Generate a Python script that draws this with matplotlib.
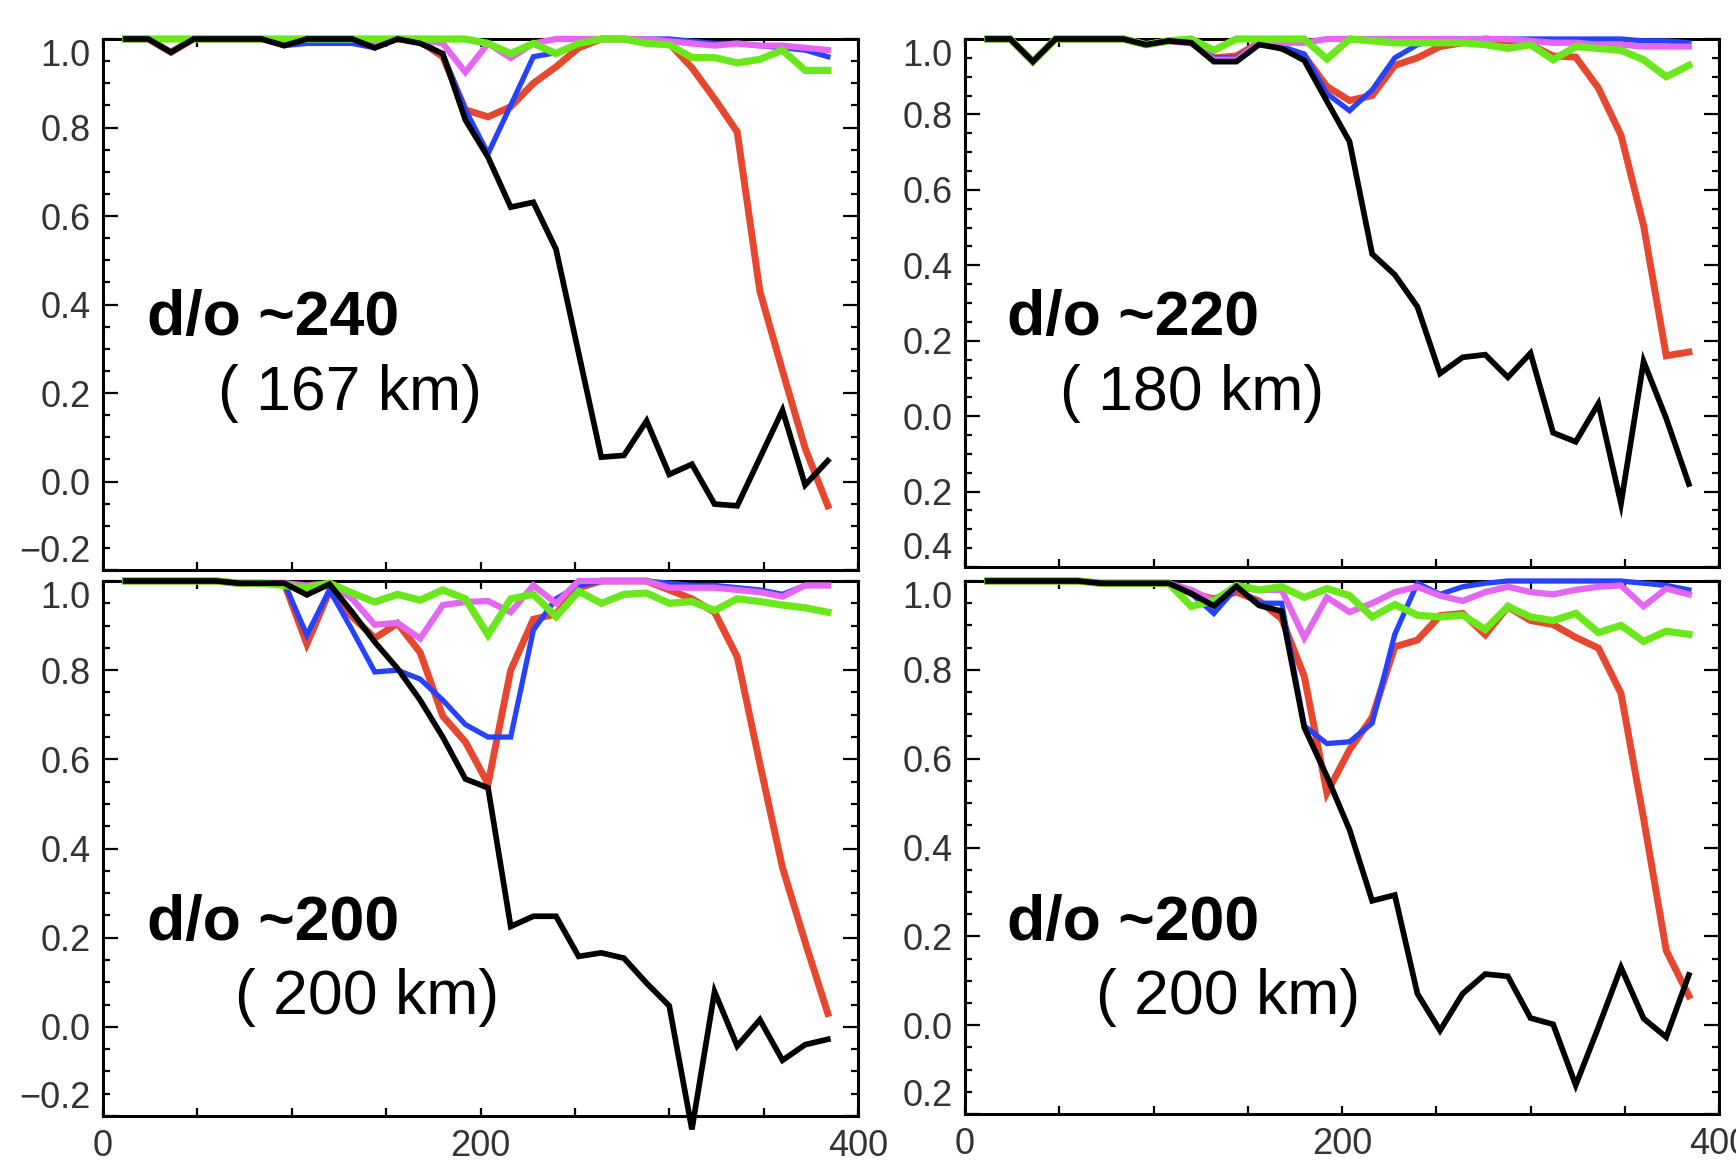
import numpy as np
import matplotlib
matplotlib.use('Agg')
import matplotlib.pyplot as plt
from matplotlib.ticker import MultipleLocator

plt.rcParams['font.family'] = ['Liberation Sans', 'DejaVu Sans']

################################################################################
### data (x = distance, y = correlation)
dist = [12, 24, 36, 48, 60, 72, 84, 96, 108, 120, 132, 144, 156, 168, 180, 192,
        204, 216, 228, 240, 252, 264, 276, 288, 300, 312, 324, 336, 348, 360, 372, 384]

# top left: d/o ~240
black_tl = [1.00, 1.00, 0.97, 1.00, 1.00, 1.00, 1.00, 0.985, 1.00, 1.00, 1.00, 0.98, 1.00, 0.99, 0.967, 0.817,
            0.733, 0.62, 0.631, 0.525, 0.29, 0.055, 0.059, 0.137, 0.016, 0.039, -0.051, -0.055, 0.053, 0.161, -0.008, 0.047]
red_tl = [1.00, 1.00, 0.97, 1.00, 1.00, 1.00, 1.00, 0.99, 1.00, 1.00, 1.00, 0.99, 1.00, 0.995, 0.96, 0.84,
          0.824, 0.847, 0.90, 0.937, 0.98, 1.00, 1.00, 0.995, 0.99, 0.935, 0.865, 0.79, 0.43, 0.25, 0.075, -0.055]
blue_tl = [1.00, 1.00, 0.97, 1.00, 1.00, 1.00, 1.00, 0.985, 0.99, 0.99, 0.99, 0.98, 1.00, 0.995, 0.965, 0.84,
           0.741, 0.85, 0.96, 0.969, 0.99, 1.00, 1.00, 1.00, 1.00, 0.995, 0.99, 0.99, 0.985, 0.98, 0.975, 0.96]
magenta_tl = [1.00, 1.00, 0.97, 1.00, 1.00, 1.00, 1.00, 0.99, 1.00, 1.00, 1.00, 0.99, 1.00, 1.00, 0.99, 0.925,
              0.99, 0.957, 0.99, 1.00, 1.00, 1.00, 1.00, 1.00, 0.995, 0.99, 0.985, 0.99, 0.985, 0.985, 0.98, 0.975]
green_tl = [1.00, 1.00, 1.00, 1.00, 1.00, 1.00, 1.00, 1.00, 1.00, 1.00, 1.00, 1.00, 1.00, 1.00, 1.00, 1.00,
            0.99, 0.967, 0.99, 0.967, 0.99, 1.00, 1.00, 0.99, 0.987, 0.958, 0.958, 0.946, 0.954, 0.975, 0.929, 0.929]

# top right: d/o ~220
black_tr = [1.00, 1.00, 0.94, 1.00, 1.00, 1.00, 1.00, 0.985, 0.995, 0.99, 0.94, 0.94, 0.985, 0.975, 0.943, 0.835,
            0.728, 0.43, 0.375, 0.29, 0.113, 0.156, 0.163, 0.103, 0.167, -0.044, -0.068, 0.033, -0.232, 0.145, -0.006, -0.18]
red_tr = [1.00, 1.00, 0.94, 1.00, 1.00, 1.00, 1.00, 0.985, 0.995, 0.99, 0.95, 0.955, 0.99, 0.975, 0.955, 0.874,
          0.837, 0.85, 0.93, 0.95, 0.98, 0.99, 1.00, 0.995, 0.985, 0.955, 0.952, 0.87, 0.745, 0.505, 0.16, 0.17]
blue_tr = [1.00, 1.00, 0.94, 1.00, 1.00, 1.00, 1.00, 0.985, 0.995, 0.99, 0.95, 0.95, 0.99, 0.98, 0.96, 0.855,
           0.81, 0.865, 0.95, 0.985, 1.00, 1.00, 1.00, 1.00, 1.00, 1.00, 1.00, 1.00, 1.00, 0.995, 0.995, 0.99]
magenta_tr = [1.00, 1.00, 0.94, 1.00, 1.00, 1.00, 1.00, 0.985, 0.995, 0.99, 0.945, 0.945, 0.99, 0.99, 0.99, 1.00,
              1.00, 1.00, 1.00, 1.00, 1.00, 1.00, 1.00, 1.00, 0.995, 0.99, 0.99, 0.985, 0.985, 0.98, 0.98, 0.98]
green_tr = [1.00, 1.00, 0.94, 1.00, 1.00, 1.00, 1.00, 0.985, 0.995, 1.00, 0.97, 1.00, 1.00, 1.00, 1.00, 0.947,
            1.00, 0.995, 0.99, 0.99, 0.99, 0.99, 0.985, 0.975, 0.985, 0.945, 0.98, 0.975, 0.97, 0.945, 0.90, 0.93]

# bottom left: d/o ~200
black_bl = [1.00, 1.00, 1.00, 1.00, 1.00, 0.995, 0.995, 0.995, 0.969, 0.993, 0.93, 0.863, 0.804, 0.733, 0.65, 0.556,
            0.536, 0.225, 0.248, 0.248, 0.158, 0.166, 0.154, 0.098, 0.047, -0.23, 0.079, -0.043, 0.016, -0.075, -0.04, -0.028]
red_bl = [1.00, 1.00, 1.00, 1.00, 1.00, 0.995, 0.995, 0.995, 0.859, 0.977, 0.92, 0.872, 0.905, 0.84, 0.697, 0.639,
          0.545, 0.80, 0.914, 0.926, 0.985, 1.00, 1.00, 1.00, 0.98, 0.96, 0.93, 0.83, 0.59, 0.357, 0.19, 0.03]
blue_bl = [1.00, 1.00, 1.00, 1.00, 1.00, 0.995, 0.995, 0.995, 0.879, 0.98, 0.89, 0.796, 0.80, 0.78, 0.733, 0.678,
           0.65, 0.65, 0.89, 0.96, 0.99, 1.00, 1.00, 1.00, 0.995, 0.99, 0.99, 0.985, 0.98, 0.97, 0.99, 0.99]
magenta_bl = [1.00, 1.00, 1.00, 1.00, 1.00, 0.995, 0.995, 0.995, 0.99, 0.995, 0.96, 0.902, 0.906, 0.871, 0.946, 0.953,
              0.955, 0.93, 0.99, 0.95, 1.00, 1.00, 1.00, 1.00, 0.985, 0.985, 0.985, 0.98, 0.975, 0.965, 0.99, 0.99]
green_bl = [1.00, 1.00, 1.00, 1.00, 1.00, 0.995, 0.995, 0.99, 0.985, 0.995, 0.973, 0.953, 0.97, 0.957, 0.98, 0.96,
            0.879, 0.96, 0.97, 0.92, 0.977, 0.95, 0.97, 0.973, 0.95, 0.954, 0.934, 0.96, 0.954, 0.946, 0.94, 0.93]

# bottom right: d/o ~200
black_br = [1.00, 1.00, 1.00, 1.00, 1.00, 0.995, 0.995, 0.995, 0.995, 0.972, 0.944, 0.988, 0.945, 0.932, 0.67, 0.56,
            0.44, 0.28, 0.293, 0.071, -0.012, 0.071, 0.115, 0.11, 0.016, 0.002, -0.135, -0.005, 0.13, 0.015, -0.027, 0.113]
red_br = [1.00, 1.00, 1.00, 1.00, 1.00, 0.995, 0.995, 0.995, 0.995, 0.972, 0.96, 0.975, 0.955, 0.915, 0.785, 0.523,
          0.62, 0.693, 0.852, 0.867, 0.922, 0.927, 0.879, 0.942, 0.911, 0.902, 0.873, 0.849, 0.747, 0.465, 0.168, 0.066]
blue_br = [1.00, 1.00, 1.00, 1.00, 1.00, 0.995, 0.995, 0.995, 0.995, 0.972, 0.927, 0.985, 0.95, 0.95, 0.674, 0.634,
           0.638, 0.68, 0.88, 0.995, 0.97, 0.987, 0.995, 1.00, 1.00, 1.00, 1.00, 1.00, 1.00, 0.995, 0.99, 0.98]
magenta_br = [1.00, 1.00, 1.00, 1.00, 1.00, 0.995, 0.995, 0.995, 0.995, 0.98, 0.955, 0.985, 0.98, 0.98, 0.872, 0.963,
              0.93, 0.95, 0.975, 0.987, 0.967, 0.955, 0.975, 0.987, 0.975, 0.97, 0.98, 0.987, 0.99, 0.943, 0.983, 0.97]
green_br = [1.00, 1.00, 1.00, 1.00, 1.00, 0.995, 0.995, 0.995, 0.995, 0.943, 0.955, 0.99, 0.98, 0.987, 0.963, 0.983,
            0.967, 0.919, 0.947, 0.923, 0.919, 0.923, 0.891, 0.943, 0.919, 0.911, 0.927, 0.884, 0.90, 0.864, 0.887, 0.88]

# panel labels
degree_labels = ['d/o ~240', 'd/o ~220', 'd/o ~200', 'd/o ~200']
km_labels = ['( 167 km)', '( 180 km)', '( 200 km)', '( 200 km)']

# y tick labels (right-hand panels lost their minus signs when cropped)
yticks_a = [-0.2, 0.0, 0.2, 0.4, 0.6, 0.8, 1.0]
yticks_b = [-0.4, -0.2, 0.0, 0.2, 0.4, 0.6, 0.8, 1.0]
ylabels_tl = ['\u22120.2', '0.0', '0.2', '0.4', '0.6', '0.8', '1.0']
ylabels_tr = ['0.4', '0.2', '0.0', '0.2', '0.4', '0.6', '0.8', '1.0']
ylabels_bl = ['\u22120.2', '0.0', '0.2', '0.4', '0.6', '0.8', '1.0']
ylabels_br = ['0.2', '0.0', '0.2', '0.4', '0.6', '0.8', '1.0']
xticks = [0, 200, 400]
xlabels = ['0', '200', '400']

################################################################################
### figure
W, H = 1736, 1161
fig = plt.figure(figsize=(W / 100, H / 100), dpi=100)

def px_box(left, top, right, bottom):
    '''convert a pixel box to a figure-fraction rect'''
    return [left / W, 1 - bottom / H, (right - left) / W, (bottom - top) / H]

# drawing order: red, blue, magenta, green, black on top
styles = [('#e8472f', 5.0), ('#2442ff', 3.8), ('#e466f2', 4.5), ('#6ae81c', 5.2), ('black', 4.1)]

panels = [
    (px_box(103, 39, 858, 570), (-0.2, 1.0), yticks_a, ylabels_tl,
     [red_tl, blue_tl, magenta_tl, green_tl, black_tl], False,
     (0.058, 0.443), (0.152, 0.301)),
    (px_box(965, 39, 1719, 567), (-0.4, 1.0), yticks_b, ylabels_tr,
     [red_tr, blue_tr, magenta_tr, green_tr, black_tr], False,
     (0.056, 0.439), (0.126, 0.297)),
    (px_box(103, 581, 858, 1116), (-0.2, 1.0), yticks_a, ylabels_bl,
     [red_bl, blue_bl, magenta_bl, green_bl, black_bl], True,
     (0.058, 0.329), (0.175, 0.191)),
    (px_box(965, 581, 1719, 1114), (-0.2, 1.0), yticks_a, ylabels_br,
     [red_br, blue_br, magenta_br, green_br, black_br], True,
     (0.056, 0.326), (0.174, 0.188)),
]

for i, (rect, ylim, yt, yl, series, show_x, pos1, pos2) in enumerate(panels):
    ax = fig.add_axes(rect)
    for ys, (col, lw) in zip(series, styles):
        ax.plot(dist, ys, color=col, lw=lw, clip_on=False, zorder=3,
                solid_joinstyle='miter')

    ax.set_xlim(0, 400)
    ax.set_ylim(*ylim)
    ax.set_yticks(yt, yl)
    ax.yaxis.set_minor_locator(MultipleLocator(0.05))
    ax.xaxis.set_minor_locator(MultipleLocator(50))
    if show_x:
        ax.set_xticks(xticks, xlabels)
    else:
        ax.set_xticks(xticks, ['', '', ''])

    ax.tick_params(axis='both', which='both', direction='in', top=True, right=True,
                   width=1.6, colors='black', labelcolor='#333333', labelsize=26)
    ax.tick_params(axis='y', which='major', length=11, pad=9)
    ax.tick_params(axis='y', which='minor', length=5)
    ax.tick_params(axis='x', which='both', length=6, pad=9)
    for sp in ax.spines.values():
        sp.set_linewidth(2.2)

    # keep the end labels inside the panel height
    labs = ax.get_yticklabels()
    labs[0].set_va('bottom')
    labs[-1].set_va('top')

    ax.text(pos1[0], pos1[1], degree_labels[i], transform=ax.transAxes,
            fontsize=45, fontweight='bold', ha='left', va='baseline')
    ax.text(pos2[0], pos2[1], km_labels[i], transform=ax.transAxes,
            fontsize=45, ha='left', va='baseline')

fig.savefig('out.png', dpi=100)
